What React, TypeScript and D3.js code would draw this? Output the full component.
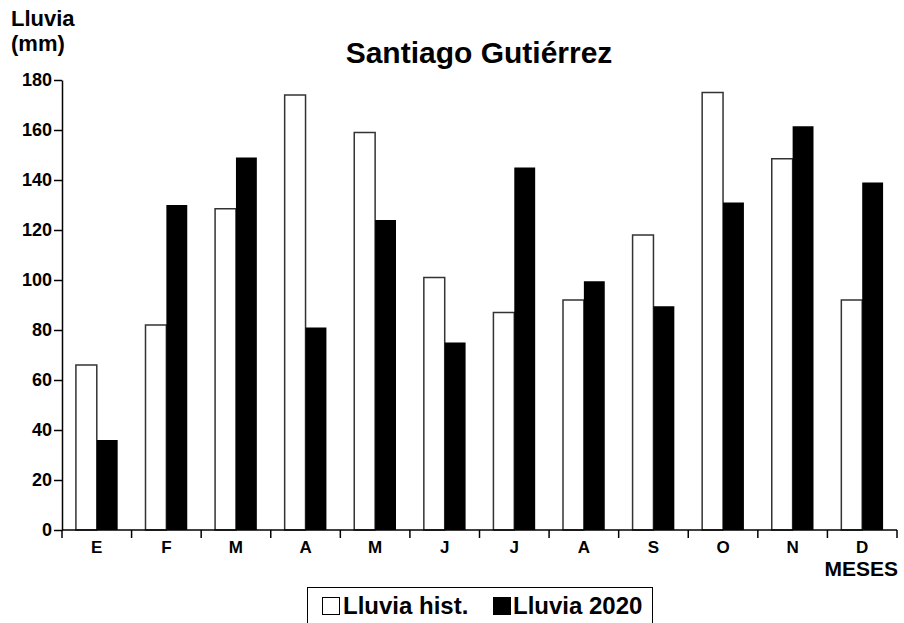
import { useRef, useEffect } from 'react';
import * as d3 from 'd3';

// Monthly rainfall (mm)
const months = ['E', 'F', 'M', 'A', 'M', 'J', 'J', 'A', 'S', 'O', 'N', 'D'];
const histValues = [66, 82, 128.5, 174, 159, 101, 87, 92, 118, 175, 148.5, 92];
const values2020 = [36, 130, 149, 81, 124, 75, 145, 99.5, 89.5, 131, 161.5, 139];
const yTicks = [0, 20, 40, 60, 80, 100, 120, 140, 160, 180];

const WIDTH = 904;
const HEIGHT = 623;
const FONT = '"Liberation Sans", Arial, sans-serif';

export default function App() {
  const svgRef = useRef<SVGSVGElement>(null);

  useEffect(() => {
    if (!svgRef.current) return;
    const svg = d3.select(svgRef.current);
    svg.selectAll('*').remove();

    const left = 62;
    const right = 897;
    const top = 80;
    const bottom = 530;

    // band per month, index used as key so repeated letters stay distinct
    const x = d3.scaleBand<number>()
      .domain(d3.range(months.length))
      .range([left, right])
      .paddingInner(0)
      .paddingOuter(0);

    const y = d3.scaleLinear().domain([0, 180]).range([bottom, top]);

    const bw = x.bandwidth();
    const barW = bw * 0.3;
    const gap = (bw - 2 * barW) / 2;

    // Hist bars (white, outlined)
    svg.append('g')
      .selectAll('rect')
      .data(histValues)
      .enter().append('rect')
      .attr('x', (_, i) => (x(i) as number) + gap)
      .attr('y', d => y(d))
      .attr('width', barW)
      .attr('height', d => bottom - y(d))
      .attr('fill', '#fff')
      .attr('stroke', '#333')
      .attr('stroke-width', 1.5);

    // 2020 bars (black)
    svg.append('g')
      .selectAll('rect')
      .data(values2020)
      .enter().append('rect')
      .attr('x', (_, i) => (x(i) as number) + gap + barW)
      .attr('y', d => y(d))
      .attr('width', barW)
      .attr('height', d => bottom - y(d))
      .attr('fill', '#000');

    // Y axis
    const yAxis = svg.append('g')
      .attr('transform', `translate(${left},0)`)
      .call(d3.axisLeft(y).tickValues(yTicks).tickSize(8).tickSizeOuter(0));
    yAxis.select('.domain').attr('stroke', '#000').attr('stroke-width', 1.5);
    yAxis.selectAll('.tick line').attr('stroke', '#000').attr('stroke-width', 1.5);
    yAxis.selectAll('.tick text')
      .attr('font-family', FONT)
      .attr('font-weight', 'bold')
      .attr('font-size', 18)
      .attr('fill', '#000')
      .attr('x', -10);

    // X axis: ticks at category boundaries
    const xg = svg.append('g');
    xg.append('line')
      .attr('x1', left).attr('x2', right)
      .attr('y1', bottom).attr('y2', bottom)
      .attr('stroke', '#000').attr('stroke-width', 1.5);
    xg.selectAll('line.b')
      .data(d3.range(months.length + 1))
      .enter().append('line')
      .attr('class', 'b')
      .attr('x1', i => left + i * bw)
      .attr('x2', i => left + i * bw)
      .attr('y1', bottom)
      .attr('y2', bottom + 8)
      .attr('stroke', '#000')
      .attr('stroke-width', 1.5);
    xg.selectAll('text')
      .data(months)
      .enter().append('text')
      .attr('x', (_, i) => (x(i) as number) + bw / 2)
      .attr('y', 553)
      .attr('text-anchor', 'middle')
      .attr('font-family', FONT)
      .attr('font-weight', 'bold')
      .attr('font-size', 17)
      .text(d => d);

    // Axis titles
    svg.append('text')
      .attr('x', 898)
      .attr('y', 576)
      .attr('text-anchor', 'end')
      .attr('font-family', FONT)
      .attr('font-weight', 'bold')
      .attr('font-size', 21)
      .text('MESES');

    const yl = svg.append('text')
      .attr('font-family', FONT)
      .attr('font-weight', 'bold')
      .attr('font-size', 22);
    yl.append('tspan').attr('x', 11).attr('y', 26).text('Lluvia');
    yl.append('tspan').attr('x', 11).attr('y', 51).text('(mm)');

    // Title
    svg.append('text')
      .attr('x', 479)
      .attr('y', 63)
      .attr('text-anchor', 'middle')
      .attr('font-family', FONT)
      .attr('font-weight', 'bold')
      .attr('font-size', 30)
      .text('Santiago Gutiérrez');

    // Legend
    const lg = svg.append('g');
    lg.append('rect')
      .attr('x', 307.5).attr('y', 587.5)
      .attr('width', 345).attr('height', 40)
      .attr('fill', '#fff').attr('stroke', '#000').attr('stroke-width', 1);
    lg.append('rect')
      .attr('x', 322.5).attr('y', 597.5).attr('width', 17).attr('height', 17)
      .attr('fill', '#fff').attr('stroke', '#000').attr('stroke-width', 1);
    lg.append('text')
      .attr('x', 343).attr('y', 614)
      .attr('font-family', FONT).attr('font-weight', 'bold').attr('font-size', 24)
      .text('Lluvia hist.');
    lg.append('rect')
      .attr('x', 493).attr('y', 597).attr('width', 18).attr('height', 18)
      .attr('fill', '#000');
    lg.append('text')
      .attr('x', 513).attr('y', 614)
      .attr('font-family', FONT).attr('font-weight', 'bold').attr('font-size', 24)
      .text('Lluvia 2020');
  }, []);

  return (
    <svg
      ref={svgRef}
      width={WIDTH}
      height={HEIGHT}
      style={{ position: 'absolute', left: 0, top: 0, background: '#fff' }}
    />
  );
}
